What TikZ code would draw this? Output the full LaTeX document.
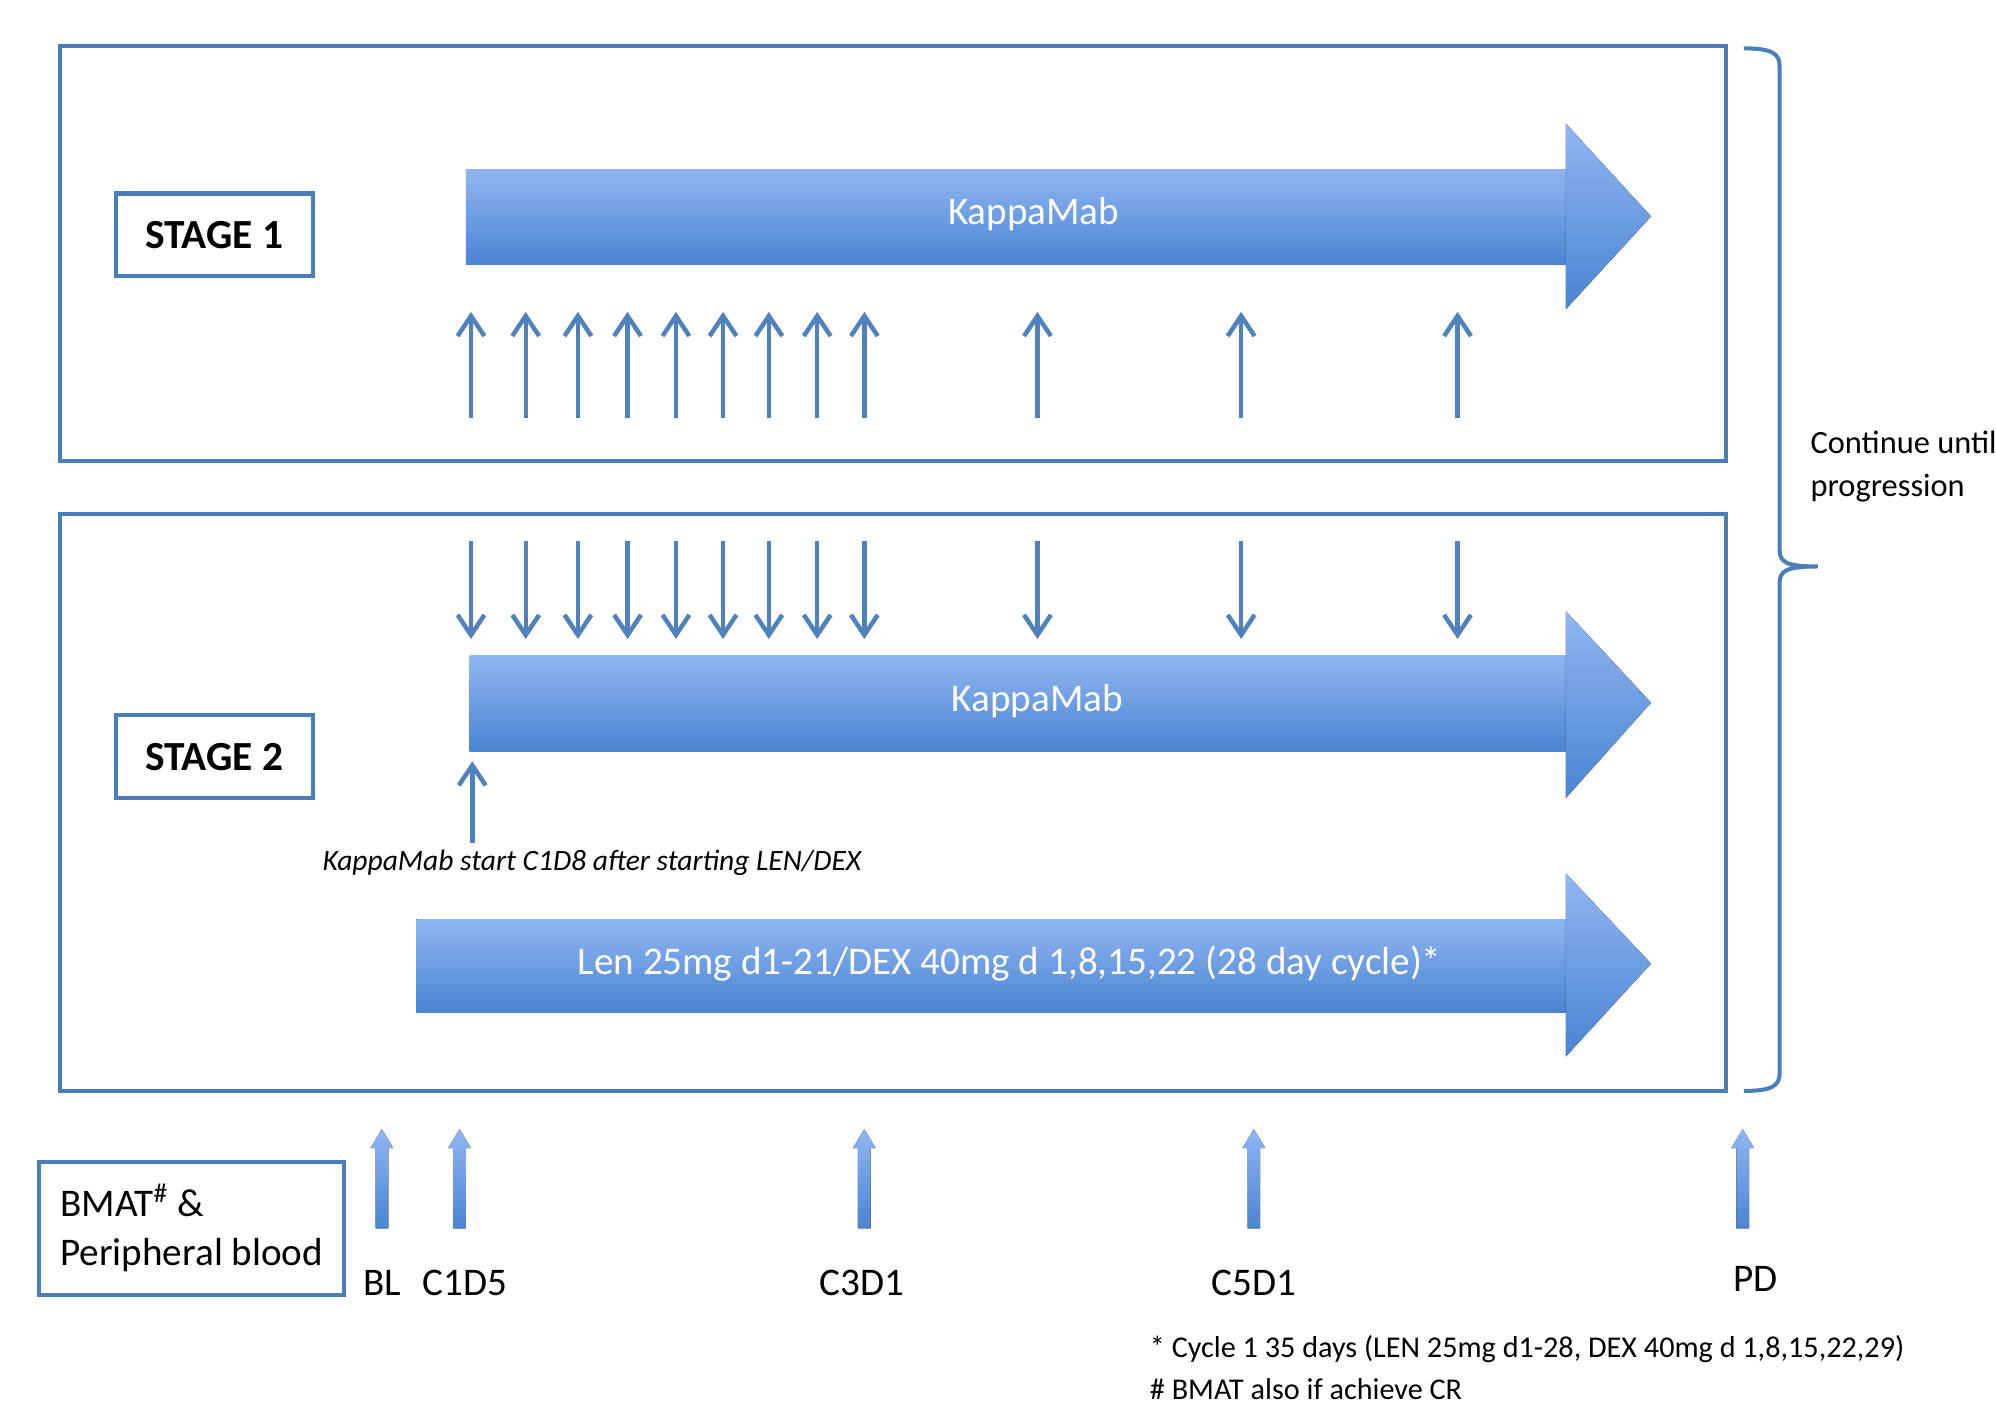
\documentclass[tikz,border=0pt]{standalone}
\usepackage{fontspec}
\setmainfont{Carlito}
\usetikzlibrary{arrows.meta}
\definecolor{boxblue}{HTML}{4A7EBB}
\definecolor{arrlight}{HTML}{90B6F2}
\definecolor{arrdark}{HTML}{4A84D2}
\definecolor{thinblue}{HTML}{4F81BD}
\begin{document}
\begin{tikzpicture}[x=0.02cm,y=-0.02cm,
  frame/.style={draw=boxblue, line width=1.8pt},
  stagebox/.style={draw=boxblue, line width=1.8pt, minimum width=3.1cm, minimum height=1.3cm, inner sep=0pt, font=\fontsize{18.5}{22}\selectfont\bfseries},
  thinarrow/.style={thinblue, line width=2pt, -{Straight Barb[length=9pt,width=12pt,line width=2pt]}},
  bigshade/.style={top color=arrlight, bottom color=arrdark, draw=none},
  blockshade/.style={top color=arrlight, bottom color=arrdark, draw=none},
  lab/.style={font=\fontsize{17.5}{21}\selectfont, inner sep=0pt},
  arrtext/.style={font=\fontsize{17.5}{21}\selectfont, text=white, inner sep=0pt},
  note/.style={font=\fontsize{13.5}{16}\selectfont, inner sep=0pt, anchor=west}
]
\clip (0,0) rectangle (1568,1102);
\fill[white] (0,0) rectangle (1568,1102);

% outer frames
\draw[frame] (47,36) rectangle (1356,362);
\draw[frame] (47,404) rectangle (1356,857);

% brace
\draw[boxblue, line width=1.8pt] (1370,38) .. controls (1392,38) and (1398,42) .. (1398,52) -- (1398,432)
  .. controls (1398,442) and (1404,445) .. (1428,445)
  .. controls (1404,445) and (1398,448) .. (1398,458) -- (1398,843)
  .. controls (1398,853) and (1392,857) .. (1370,857);
\node[lab, font=\fontsize{14.5}{19.3}\selectfont, anchor=north west, align=left] (cont) at (1422,338) {Continue until\\progression};

% stage labels
\node[stagebox] (s1) at (168.5,184.5) {STAGE 1};
\node[stagebox] (s2) at (168.5,594.5) {STAGE 2};

% KappaMab arrow stage 1
\fill[bigshade] (366,133) rectangle (1231,208);
\fill[bigshade] (1230,97) -- (1297,170) -- (1230,243) -- cycle;
\node[arrtext] (k1) at (812,168) {KappaMab};

% stage 1 up arrows
\foreach \x in {370,413,454,493,531,568,604,642,679,815,975,1145}
  \draw[thinarrow] (\x,328) -- (\x,245);

% stage 2 down arrows
\foreach \x in {370,413,454,493,531,568,604,642,679,815,975,1145}
  \draw[thinarrow] (\x,425) -- (\x,502);

% KappaMab arrow stage 2
\fill[bigshade] (369,515) rectangle (1231,590);
\fill[bigshade] (1230,480) -- (1297,552) -- (1230,627) -- cycle;
\node[arrtext] (k2) at (815,551) {KappaMab};

% start arrow
\coordinate (st0) at (371,662);
\coordinate (st1) at (371,598);
\draw[thinarrow] (st0) -- (st1);
\node[lab, font=\fontsize{13.2}{16}\selectfont\itshape] (startnote) at (465,678) {KappaMab start C1D8 after starting LEN/DEX};

% Len/Dex arrow
\fill[bigshade] (327,722) rectangle (1231,795);
\fill[bigshade] (1230,686) -- (1297,757) -- (1230,830) -- cycle;
\node[arrtext] (len) at (793,757) {Len 25mg d1-21/DEX 40mg d 1,8,15,22 (28 day cycle)*};

% BMAT box
\draw[frame] (31,913) rectangle (270,1017);
\node[lab, anchor=west] (bmat) at (47,943) {BMAT\textsuperscript{\#} \&};
\node[lab, anchor=west] (pb) at (47,986) {Peripheral blood};

% bottom block arrows
\foreach \x in {300,361,679,985,1369} {
  \fill[blockshade] (\x-5,965) -- (\x-5,902) -- (\x-9,902) -- (\x,887) -- (\x+9,902) -- (\x+5,902) -- (\x+5,965) -- cycle;
}
\node[lab] (lbl) at (300,1008) {BL};
\node[lab] (lc1) at (365,1008) {C1D5};
\node[lab] (lc3) at (677,1008) {C3D1};
\node[lab] (lc5) at (985,1008) {C5D1};
\node[lab] (lpd) at (1379,1005) {PD};

% footnotes
\node[note] (n1) at (903,1060) {* Cycle 1 35 days (LEN 25mg d1-28, DEX 40mg d 1,8,15,22,29)};
\node[note] (n2) at (903,1091) {\# BMAT also if achieve CR};
\end{tikzpicture}
\end{document}
